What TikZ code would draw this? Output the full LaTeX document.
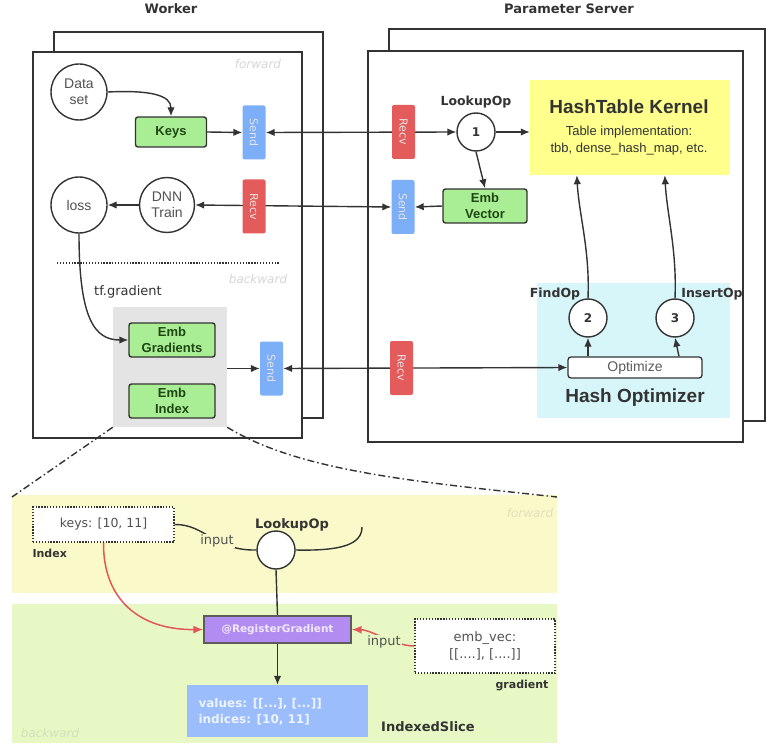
\documentclass[tikz,border=0pt]{standalone}
\usepackage{fontspec}
\setmainfont{DejaVu Sans}
\newfontfamily\arialf{Liberation Sans}
\usetikzlibrary{arrows.meta}
\definecolor{ink}{HTML}{333333}
\definecolor{gfill}{HTML}{A9EE95}
\definecolor{gtext}{HTML}{1E4612}
\definecolor{sendc}{HTML}{7DAEF8}
\definecolor{recvc}{HTML}{E45B5B}
\definecolor{htc}{HTML}{FFFF8C}
\definecolor{hoc}{HTML}{D6F6FA}
\definecolor{grayb}{HTML}{E4E4E4}
\definecolor{yband}{HTML}{FAF9C9}
\definecolor{gband}{HTML}{E7F8C5}
\definecolor{purp}{HTML}{B38CF2}
\definecolor{bluec}{HTML}{9CBDFC}
\definecolor{redc}{HTML}{E05858}
\definecolor{faint}{HTML}{D6D6D6}
\newcommand{\fsz}[2]{\fontsize{#1}{#2}\selectfont}
\pgfdeclarelayer{back}\pgfdeclarelayer{mid}
\pgfsetlayers{back,mid,main}
\begin{document}
\begin{tikzpicture}[x=1pt,y=-1pt,
  frm/.style={draw=ink,line width=1.6pt,fill=white},
  opc/.style={circle,draw=ink,line width=1.4pt,fill=white,inner sep=0pt,text=ink!85,font=\arialf\fsz{14}{15.5},align=center},
  numc/.style={circle,draw=ink,line width=1.4pt,fill=white,inner sep=0pt,minimum size=38pt,text=ink,font=\bfseries\fsz{12}{12}},
  gnode/.style={draw=ink,line width=1.4pt,rounded corners=2.5pt,fill=gfill,text=gtext,font=\arialf\bfseries\fsz{13}{16},align=center,inner sep=0pt},
  sbox/.style={fill=sendc,rounded corners=2pt,minimum width=23pt,minimum height=54pt,inner sep=0pt},
  rbox/.style={fill=recvc,rounded corners=2pt,minimum width=23pt,minimum height=54pt,inner sep=0pt},
  vlab/.style={rotate=-90,text=white!80!gray,font=\fsz{11}{11}},
  arr/.style={draw=ink,line width=1.4pt,-{Latex[length=9pt,width=7.5pt]}},
  barr/.style={draw=ink,line width=1.4pt,{Latex[length=9pt,width=7.5pt]}-{Latex[length=9pt,width=7.5pt]}},
  blab/.style={font=\bfseries\fsz{12.5}{14},text=ink},
  faintl/.style={text=faint,font=\itshape\fsz{12}{12}},
  dotbox/.style={draw=ink,line width=1.3pt,dash pattern=on 1.3pt off 1.6pt,fill=white,inner sep=0pt,text=ink!85,align=center},
  ddash/.style={draw=ink,line width=1.4pt,dash pattern=on 7pt off 3pt on 1.5pt off 3pt}
]
\useasboundingbox (0,0) rectangle (773,751);
\begin{pgfonlayer}{back}
\draw[frm] (54,32) rectangle (323,418);
\draw[frm] (33,52) rectangle (302,438);
\draw[frm] (389,29) rectangle (765,421);
\draw[frm] (368,51) rectangle (743,442);
\node[fill=htc,minimum width=200pt,minimum height=95pt,inner sep=0pt] (ht) at (630,127.5) {};
\node[fill=hoc,minimum width=193pt,minimum height=135pt,inner sep=0pt] (ho) at (633.5,350.5) {};
\node[fill=grayb,minimum width=114pt,minimum height=120pt,inner sep=0pt] (gb) at (170,367) {};
\fill[yband] (12,495) rectangle (557,593);
\fill[gband] (12,604) rectangle (557,743);
\end{pgfonlayer}

% titles
\node[font=\bfseries\fsz{13}{15},text=ink] (tw) at (171,9) {Worker};
\node[font=\bfseries\fsz{13}{15},text=ink] (tps) at (569,9) {Parameter Server};
\node[faintl] (fw1) at (258,64) {forward};
\node[faintl] (bw1) at (258,279) {backward};
\draw[ink,line width=1.3pt,dash pattern=on 1.3pt off 1.6pt] (57,263) -- (280,263);

% worker
\node[opc,minimum size=56pt] (ds) at (79,92) {Data\\set};
\node[gnode,minimum width=71pt,minimum height=30pt] (keys) at (171,132) {Keys};
\node[sbox] (ws1) at (254,132.5) {};
\node[vlab] (ws1t) at (ws1) {Send};
\node[opc,minimum size=56pt] (loss) at (79,205) {loss};
\node[opc,minimum size=55pt] (dnn) at (167,205) {DNN\\Train};
\node[rbox] (wr2) at (254,206.5) {};
\node[vlab] (wr2t) at (wr2) {Recv};
\node[font=\fsz{13}{15},text=ink] (tfg) at (128,292) {tf.gradient};
\node[gnode,minimum width=86pt,minimum height=34pt] (eg) at (172,340) {Emb\\Gradients};
\node[gnode,minimum width=86pt,minimum height=34pt] (ei) at (172,401) {Emb\\Index};
\node[sbox] (ws3) at (271.5,368.5) {};
\node[vlab] (ws3t) at (ws3) {Send};

% parameter server
\node[rbox] (pr1) at (403.5,132) {};
\node[vlab] (pr1t) at (pr1) {Recv};
\node[numc] (c1) at (476,132) {1};
\node[blab] (lop) at (476,102) {LookupOp};
\node[font=\arialf\bfseries\fsz{19}{21},text=ink] (htt) at (629,107) {HashTable Kernel};
\node[font=\arialf\fsz{13}{17},text=ink,align=center] (hts) at (629,140.5) {Table implementation:\\tbb, dense\_hash\_map, etc.};
\node[gnode,minimum width=84pt,minimum height=34pt] (ev) at (485,206) {Emb\\Vector};
\node[sbox] (ps2) at (403,207) {};
\node[vlab] (ps2t) at (ps2) {Send};
\node[numc] (c2) at (588,318) {2};
\node[numc] (c3) at (675,318) {3};
\node[blab] (fop) at (555,294) {FindOp};
\node[blab] (iop) at (712,294) {InsertOp};
\node[draw=ink,line width=1.3pt,fill=white,rounded corners=3pt,minimum width=134pt,minimum height=21pt,inner sep=0pt,font=\arialf\fsz{14}{14},text=ink!80] (opt) at (635,367.5) {Optimize};
\node[font=\arialf\bfseries\fsz{19}{21},text=ink] (hot) at (635,398) {Hash Optimizer};
\node[rbox] (pr3) at (401.5,368) {};
\node[vlab] (pr3t) at (pr3) {Recv};

% bottom detail
\coordinate (ddl) at (12,497);
\coordinate (ddr) at (557,497);
\node[faintl,text=yband!80!gray] (fw2) at (530,513) {forward};
\node[faintl,text=gband!80!gray] (bw2) at (50,733) {backward};
\node[dotbox,minimum width=141pt,minimum height=35pt,font=\fsz{12.5}{14}] (kb) at (103.5,524.5) {keys: [10, 11]};
\node[font=\bfseries\fsz{11}{12},text=ink,anchor=west] (idx) at (29,553) {Index};
\node[circle,draw=ink,line width=1.4pt,fill=white,minimum size=38pt,inner sep=0pt] (lk) at (276,550) {};
\node[font=\bfseries\fsz{13}{14},text=ink] (lkt) at (292,525) {LookupOp};
\node[fill=yband,inner sep=1pt,font=\fsz{13}{14},text=ink!85] (in1) at (217,541) {input};
\coordinate (hook) at (362,527);
\node[draw=ink!80,line width=1.3pt,fill=purp,minimum width=147pt,minimum height=27pt,inner sep=0pt,text=white!80!purp,font=\bfseries\fsz{10.5}{12}] (rg) at (277.5,629.5) {@RegisterGradient};
\node[fill=bluec,minimum width=181pt,minimum height=52pt,inner sep=0pt] (isl) at (277.5,711) {};
\node[anchor=west,align=left,text=white!82!bluec,font=\bfseries\fsz{12}{16}] (islt) at (195,712) {values: [[...], [...]]\\indices: [10, 11]};
\node[font=\bfseries\fsz{13}{14},text=ink] (isn) at (428,727) {IndexedSlice};
\node[dotbox,minimum width=140pt,minimum height=54pt,font=\fsz{13}{17}] (evb) at (485,646) {emb\_vec:\\{}[[....], [....]]};
\node[font=\bfseries\fsz{11}{12},text=ink] (grd) at (522,686) {gradient};
\node[fill=gband,inner sep=1pt,font=\fsz{13}{14},text=ink!85] (in2) at (384,642) {input};

% connectors
\begin{pgfonlayer}{mid}
\draw[arr] (ds.east) .. controls (150,90) and (171,95) .. (keys.north);
\draw[arr] (keys.east) -- (ws1.west);
\draw[barr] (ws1.east) -- (c1.west);
\draw[arr] (c1.east) -- (c1.east -| ht.west);
\draw[arr] (c1.south) -- (ev.north);
\draw[arr] (ev.west) -- (ps2.east);
\draw[barr] (dnn.east) -- (ps2.west);
\draw[arr] (dnn.west) -- (loss.east);
\draw[arr] (loss.south) .. controls (79,320) and (95,340) .. (eg.west);
\draw[arr] (gb.east |- ws3.west) -- (ws3.west);
\draw[barr] (ws3.east) -- (opt.west);
\draw[arr] (opt.north -| c2) -- (c2.south);
\draw[arr] ([xshift=44pt]opt.north) -- (c3.south);
\draw[arr] (c2.north) .. controls (590,250) and (579,215) .. ([xshift=47pt]ht.south west);
\draw[arr] (c3.north) .. controls (677,250) and (667,215) .. ([xshift=135pt]ht.south west);
\draw[ddash] (gb.south west) -- (ddl);
\draw[ddash] (gb.south east) .. controls (300,472) and (420,482) .. (ddr);
\draw[ink,line width=1.4pt] (kb.east) .. controls (205,524) and (215,551) .. (lk.west);
\draw[ink,line width=1.4pt] (lk.east) .. controls (340,551) and (362,545) .. (hook);
\draw[ink,line width=1.4pt] (lk.south) -- (rg.north);
\draw[arr] (rg.south) -- (isl.north);
\draw[redc,line width=1.5pt,-{Latex[length=10pt,width=8pt]}] (kb.south) .. controls (103,600) and (140,630) .. (rg.west);
\draw[redc,line width=1.5pt,-{Latex[length=10pt,width=8pt]}] (evb.west) .. controls (395,646) and (372,630) .. (rg.east);
\end{pgfonlayer}
\end{tikzpicture}
\end{document}
